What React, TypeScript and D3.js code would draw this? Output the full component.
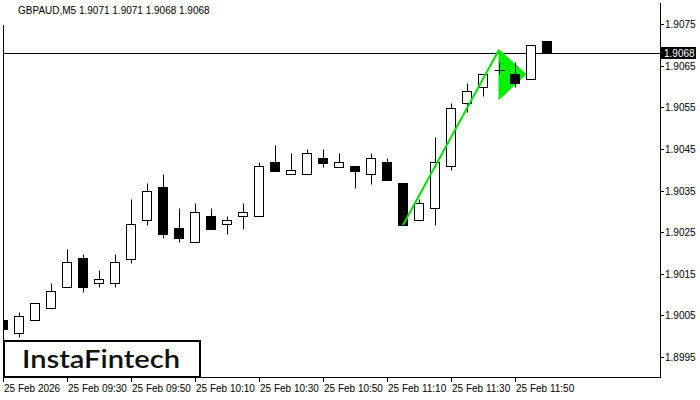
import React from "react";
import * as d3 from "d3";

const opens = [1.9004, 1.90007, 1.90038, 1.90067, 1.90118, 1.90188, 1.90127, 1.90127, 1.90186, 1.90278, 1.90358, 1.9026, 1.90227, 1.90289, 1.90269, 1.90288, 1.90288, 1.90418, 1.90389, 1.90389, 1.90428, 1.90407, 1.90409, 1.90389, 1.90418, 1.90369, 1.90279, 1.90307, 1.90409, 1.9056, 1.90598, 1.90639, 1.90629, 1.90617, 1.90709];
const highs = [1.90059, 1.90059, 1.90079, 1.90128, 1.9021, 1.90198, 1.90159, 1.90198, 1.90329, 1.90368, 1.90389, 1.90307, 1.9032, 1.90308, 1.90289, 1.9032, 1.90418, 1.90459, 1.9044, 1.9045, 1.9045, 1.9044, 1.90409, 1.9044, 1.90429, 1.90369, 1.9033, 1.90479, 1.9056, 1.90609, 1.90629, 1.90659, 1.90659, 1.907, 1.90709];
const lows = [1.90008, 1.89997, 1.90038, 1.90067, 1.90118, 1.90107, 1.90117, 1.90117, 1.90177, 1.90268, 1.90237, 1.90227, 1.90227, 1.90258, 1.90246, 1.90258, 1.90288, 1.90398, 1.90389, 1.90389, 1.90407, 1.90407, 1.90357, 1.90366, 1.90376, 1.90267, 1.90279, 1.90267, 1.90399, 1.90538, 1.90578, 1.90629, 1.90598, 1.90617, 1.9068];
const closes = [1.90017, 1.90049, 1.90079, 1.90108, 1.90178, 1.90118, 1.90137, 1.90178, 1.9027, 1.90349, 1.90246, 1.90237, 1.90298, 1.90258, 1.90279, 1.90298, 1.90409, 1.90398, 1.90399, 1.9044, 1.90417, 1.90419, 1.90398, 1.90427, 1.90376, 1.90267, 1.90319, 1.90418, 1.90548, 1.90588, 1.90629, 1.90639, 1.90608, 1.907, 1.9068];

const priceTicks = [1.9075, 1.9065, 1.9055, 1.9045, 1.9035, 1.9025, 1.9015, 1.9005, 1.8995];
const timeTickIdx = [0, 4, 8, 12, 16, 20, 24, 28, 32];
const timeTickLabels = ["25 Feb 2026", "25 Feb 09:30", "25 Feb 09:50", "25 Feb 10:10", "25 Feb 10:30", "25 Feb 10:50", "25 Feb 11:10", "25 Feb 11:30", "25 Feb 11:50"];

const currentPrice = 1.9068;
const title = "GBPAUD,M5  1.9071 1.9071 1.9068 1.9068";

// pattern: pole line and pennant triangle (index, price)
const poleIdx = [25, 31];
const polePrice = [1.90267, 1.90688];
const flagIdx = [31, 31, 32.7];
const flagPrice = [1.90688, 1.90569, 1.90629];

const W = 700, H = 400;
const L = 3, R = 660, T = 3, B = 377;

export default function App() {
  const x = d3.scaleLinear().domain([0, 1]).range([3, 19]);
  const y = d3.scaleLinear().domain([1.8995, 1.9075]).range([357, 24]);
  const px = (i: number) => Math.round(x(i)) + 0.5;
  const py = (p: number) => Math.round(y(p)) + 0.5;
  const font = "'Liberation Sans', Arial, sans-serif";

  const tri = d3.line<number>()
    .x((_, k) => x(flagIdx[k]))
    .y((_, k) => y(flagPrice[k]));
  const triPath = tri(flagIdx) + "Z";

  return (
    <svg width={W} height={H} style={{ position: "absolute", left: 0, top: 0, background: "#fff" }}>
      <defs>
        <clipPath id="plot">
          <rect x={L} y={T} width={R - L} height={B - T} />
        </clipPath>
      </defs>
      <rect x={0} y={0} width={W} height={H} fill="#fff" />
      <g clipPath="url(#plot)">
        <line x1={L} x2={R} y1={py(currentPrice)} y2={py(currentPrice)} stroke="#000" strokeWidth={1} />
        <path d={triPath} fill="#00f000" stroke="#00f000" strokeWidth={1} />
        {opens.map((o, i) => {
          const c = closes[i];
          const cx = px(i);
          const bull = c >= o;
          const top = py(Math.max(o, c));
          const bot = py(Math.min(o, c));
          return (
            <g key={i}>
              <line x1={cx} x2={cx} y1={py(highs[i])} y2={py(lows[i])} stroke="#000" strokeWidth={1} />
              {top === bot ? (
                <line x1={cx - 5} x2={cx + 5} y1={top} y2={top} stroke="#000" strokeWidth={1} />
              ) : (
                <rect x={cx - 5} y={top} width={9} height={bot - top} fill={bull ? "#fff" : "#000"} stroke="#000" strokeWidth={1} />
              )}
            </g>
          );
        })}
        <line x1={x(poleIdx[0])} y1={y(polePrice[0])} x2={x(poleIdx[1])} y2={y(polePrice[1])} stroke="#00e000" strokeWidth={2} />
      </g>
      {/* frame */}
      <line x1={L + 0.5} x2={L + 0.5} y1={25} y2={B} stroke="#000" />
      <line x1={R + 0.5} x2={R + 0.5} y1={T} y2={B} stroke="#000" />
      <line x1={L} x2={R + 1} y1={B + 0.5} y2={B + 0.5} stroke="#000" />
      {/* right axis */}
      {priceTicks.map((p) => (
        <g key={p}>
          <line x1={R} x2={R + 4} y1={py(p)} y2={py(p)} stroke="#000" />
          <text x={665} y={py(p) + 3.5} fontFamily={font} fontSize={10} fill="#000">{p.toFixed(4)}</text>
        </g>
      ))}
      <rect x={661} y={47} width={35} height={12} fill="#000" />
      <text x={664} y={py(currentPrice) + 3.5} fontFamily={font} fontSize={10} fill="#fff">{currentPrice.toFixed(4)}</text>
      {/* bottom axis */}
      {timeTickIdx.map((ti, k) => (
        <g key={ti}>
          <line x1={px(ti)} x2={px(ti)} y1={B} y2={B + 5} stroke="#000" />
          <text x={px(ti) + 0.5} y={392} fontFamily={font} fontSize={10} fill="#000">{timeTickLabels[k]}</text>
        </g>
      ))}
      {/* title */}
      <text x={18} y={14} fontFamily={font} fontSize={10} fill="#000">{title}</text>
      {/* logo */}
      <rect x={4} y={341} width={196} height={36} fill="#fff" stroke="#000" strokeWidth={2} />
      <text x={22} y={368} fontFamily="Lato, 'Open Sans', sans-serif" fontWeight={600} fontSize={24} textLength={158} lengthAdjust="spacingAndGlyphs" fill="#111">InstaFintech</text>
    </svg>
  );
}
